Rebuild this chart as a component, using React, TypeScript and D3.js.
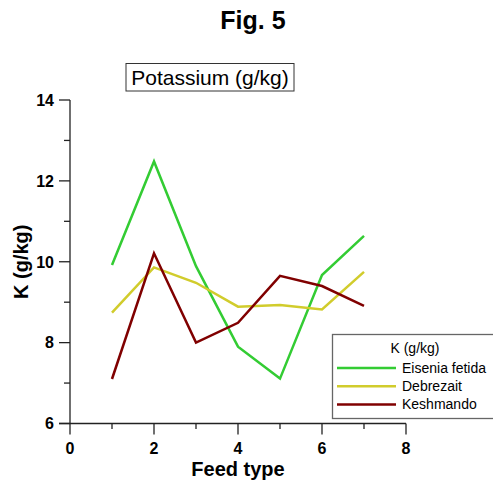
import React from "react";
import { scaleLinear, line } from "d3";

const feedTypes = [1, 2, 3, 4, 5, 6, 7];
const eiseniaFetida = [9.92, 12.48, 9.89, 7.9, 7.11, 9.67, 10.64];
const debrezait = [8.74, 9.86, 9.48, 8.89, 8.93, 8.82, 9.75];
const keshmando = [7.1, 10.21, 8.0, 8.49, 9.65, 9.4, 8.91];
const seriesNames = ["Eisenia fetida", "Debrezait", "Keshmando"];
const seriesColors = ["#33cc33", "#d1cc2c", "#800000"];
const xMajorTicks = [0, 2, 4, 6, 8];
const xMinorTicks = [1, 3, 5, 7];
const yMajorTicks = [6, 8, 10, 12, 14];
const yMinorTicks = [7, 9, 11, 13];

const W = 493;
const H = 484;
const FONT = "Arial, 'Liberation Sans', sans-serif";

export default function App() {
    const x = scaleLinear().domain([0, 8]).range([70, 406]);
    const y = scaleLinear().domain([6, 14]).range([423.5, 100]);

    const path = line<number>()
        .x((d, i) => x(feedTypes[i]))
        .y(d => y(d));

    const allSeries = [eiseniaFetida, debrezait, keshmando];
    const axisColor = "#222";

    return (
        <div style={{ position: "absolute", left: 0, top: 0 }}>
            <svg width={W} height={H} style={{ display: "block", fontFamily: FONT }}>
                <rect width={W} height={H} fill="#fff" />
                <text x={253} y={29} textAnchor="middle" fontSize={25} fontWeight="bold">Fig. 5</text>

                {/* subtitle in a box */}
                <rect x={126} y={63.5} width={168} height={27.5} fill="none" stroke="#333" strokeWidth={1} />
                <text x={210} y={85} textAnchor="middle" fontSize={21}>Potassium (g/kg)</text>

                {/* data lines */}
                {allSeries.map((s, i) => (
                    <path key={i} d={path(s) ?? ""} fill="none" stroke={seriesColors[i]} strokeWidth={2.5} strokeLinejoin="miter" />
                ))}

                {/* y axis */}
                <line x1={x(0)} x2={x(0)} y1={y(14)} y2={y(6)} stroke={axisColor} strokeWidth={1.3} />
                {yMajorTicks.map(t => (
                    <g key={t}>
                        <line x1={x(0) - 11} x2={x(0)} y1={y(t)} y2={y(t)} stroke={axisColor} strokeWidth={1.3} />
                        <text x={54} y={y(t)} dy="0.36em" textAnchor="end" fontSize={16} fontWeight="bold">{t}</text>
                    </g>
                ))}
                {yMinorTicks.map(t => (
                    <line key={t} x1={x(0) - 6} x2={x(0)} y1={y(t)} y2={y(t)} stroke={axisColor} strokeWidth={1.3} />
                ))}
                <text transform={`translate(28, ${(y(6) + y(14)) / 2}) rotate(-90)`} textAnchor="middle" fontSize={20} fontWeight="bold">K (g/kg)</text>

                {/* x axis */}
                <line x1={x(0) - 11} x2={x(8)} y1={y(6)} y2={y(6)} stroke={axisColor} strokeWidth={1.3} />
                {xMajorTicks.map(t => (
                    <g key={t}>
                        <line x1={x(t)} x2={x(t)} y1={y(6)} y2={y(6) + 11} stroke={axisColor} strokeWidth={1.3} />
                        <text x={x(t)} y={454} textAnchor="middle" fontSize={16} fontWeight="bold">{t}</text>
                    </g>
                ))}
                {xMinorTicks.map(t => (
                    <line key={t} x1={x(t)} x2={x(t)} y1={y(6)} y2={y(6) + 5.5} stroke={axisColor} strokeWidth={1.3} />
                ))}
                <text x={(x(0) + x(8)) / 2} y={476} textAnchor="middle" fontSize={20} fontWeight="bold">Feed type</text>

                {/* legend */}
                <rect x={332.5} y={334.5} width={170} height={84} fill="#fff" stroke="#666" strokeWidth={1.3} />
                <text x={415} y={353} textAnchor="middle" fontSize={14}>K (g/kg)</text>
                {seriesNames.map((n, i) => (
                    <g key={n}>
                        <line x1={337} x2={396} y1={368 + i * 18.2} y2={368 + i * 18.2} stroke={seriesColors[i]} strokeWidth={2.5} />
                        <text x={402} y={368 + i * 18.2} dy="0.36em" fontSize={14}>{n}</text>
                    </g>
                ))}
            </svg>
        </div>
    );
}
